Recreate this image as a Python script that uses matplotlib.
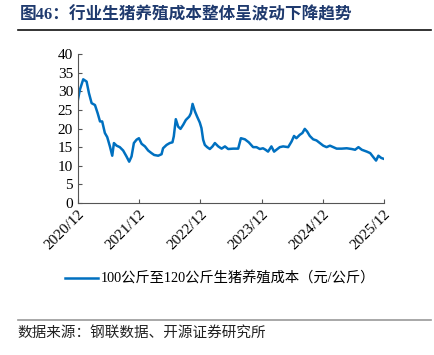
import matplotlib
matplotlib.use("Agg")
import matplotlib.pyplot as plt
from matplotlib.lines import Line2D
import numpy as np
import pandas as pd

# weekly-ish samples
dates = [
    "2020-12-01", "2020-12-03", "2020-12-13", "2021-01-02", "2021-01-22", "2021-02-05",
    "2021-02-21", "2021-03-13", "2021-03-29", "2021-04-12", "2021-04-25", "2021-05-11",
    "2021-05-25", "2021-06-10", "2021-06-24", "2021-07-04", "2021-07-20", "2021-08-08",
    "2021-08-28", "2021-09-17", "2021-10-03", "2021-10-17", "2021-10-31", "2021-11-16",
    "2021-11-30", "2021-12-16", "2022-01-05", "2022-01-24", "2022-02-13", "2022-03-01",
    "2022-03-25", "2022-04-14", "2022-04-23", "2022-05-14", "2022-06-02", "2022-06-18",
    "2022-06-26", "2022-07-08", "2022-07-22", "2022-08-05", "2022-08-21", "2022-09-06",
    "2022-09-26", "2022-10-06", "2022-10-16", "2022-10-30", "2022-11-12", "2022-11-28",
    "2022-12-08", "2022-12-18", "2022-12-28", "2023-01-11", "2023-01-27", "2023-02-12",
    "2023-02-26", "2023-03-18", "2023-04-07", "2023-04-27", "2023-05-16", "2023-06-15",
    "2023-07-15", "2023-07-31", "2023-08-24", "2023-09-16", "2023-10-12", "2023-11-01",
    "2023-11-21", "2023-12-10", "2023-12-25", "2024-01-09", "2024-01-29", "2024-02-14",
    "2024-02-28", "2024-03-19", "2024-04-08", "2024-05-08", "2024-05-28", "2024-06-12",
    "2024-06-26", "2024-07-16", "2024-08-01", "2024-08-15", "2024-08-29", "2024-09-14",
    "2024-10-04", "2024-10-24", "2024-11-13", "2024-12-03", "2024-12-23", "2025-01-12",
    "2025-02-01", "2025-02-21", "2025-03-23", "2025-04-22", "2025-05-22", "2025-06-11",
    "2025-07-01", "2025-07-21", "2025-08-20", "2025-09-09", "2025-09-28", "2025-10-14",
    "2025-10-28", "2025-11-14", "2025-12-03",
]
cost = [
    27.6, 28.1, 30.4, 33.2, 32.6, 29.5,
    26.8, 26.3, 24.1, 21.9, 21.9, 18.8,
    17.7, 15.2, 12.7, 16.1, 15.4, 15.0,
    14.1, 12.5, 11.1, 12.5, 16.1, 17.0,
    17.4, 15.9, 15.2, 14.1, 13.4, 12.9,
    12.7, 13.1, 14.7, 15.6, 16.1, 16.3,
    17.9, 22.5, 20.5, 19.9, 21.0, 22.3,
    23.2, 24.1, 26.6, 24.6, 23.2, 21.6,
    20.1, 17.0, 15.6, 15.0, 14.5, 15.2,
    16.1, 15.2, 14.6, 15.2, 14.5, 14.6,
    14.6, 17.4, 17.1, 16.3, 15.0, 15.0,
    14.5, 14.7, 14.3, 13.8, 15.2, 13.8,
    14.3, 15.0, 15.2, 15.0, 16.5, 18.0,
    17.4, 18.3, 18.8, 19.9, 19.2, 18.0,
    17.1, 16.8, 16.1, 15.4, 15.0, 15.4,
    15.0, 14.6, 14.6, 14.7, 14.5, 14.3,
    15.0, 14.3, 13.8, 13.4, 12.3, 11.4,
    12.7, 12.1, 11.8,
]
tick_dates = ["2020-12-01", "2021-12-01", "2022-12-01", "2023-12-01", "2024-12-01", "2025-12-01"]
tick_labels = ["2020/12", "2021/12", "2022/12", "2023/12", "2024/12", "2025/12"]
series_name = "100公斤至120公斤生猪养殖成本（元/公斤）"
title = "图46：行业生猪养殖成本整体呈波动下降趋势"
source = "数据来源：钢联数据、开源证券研究所"

plt.rcParams["font.family"] = ["Liberation Serif", "Noto Sans CJK SC", "DejaVu Sans"]

x = pd.to_datetime(dates)
fig = plt.figure(figsize=(4.35, 3.55), dpi=100)
ax = fig.add_axes([0.179, 0.428, 0.704, 0.42])

ax.plot(x, cost, color="#0070C0", lw=1.8, label=series_name)

ax.set_ylim(0, 40)
ax.set_yticks(np.arange(0, 41, 5))
ax.set_xlim(pd.Timestamp(tick_dates[0]), pd.Timestamp(tick_dates[-1]))
ax.set_xticks(pd.to_datetime(tick_dates))
ax.set_xticklabels(tick_labels, rotation=45, ha="right", rotation_mode="anchor")
ax.tick_params(direction="in", labelsize=11, length=3, color="#555555", width=0.8)
for s in ("top", "right"):
    ax.spines[s].set_visible(False)
for s in ("left", "bottom"):
    ax.spines[s].set_color("#555555")
    ax.spines[s].set_linewidth(0.8)

ax.legend(loc="center", bbox_to_anchor=(0.505, 0.214), bbox_transform=fig.transFigure,
          frameon=False, fontsize=10.3, handlelength=2.3, handletextpad=0.2)

fig.text(0.046, 0.958, title, fontsize=12, fontweight="bold", color="#1F3A6E",
         va="center", ha="left")
fig.text(0.041, 0.062, source, fontsize=10.5, color="#222222", va="center", ha="left")

fig.add_artist(Line2D([0.041, 0.99], [0.915, 0.915], transform=fig.transFigure,
                      color="#111111", lw=1.2))
fig.add_artist(Line2D([0.041, 0.99], [0.099, 0.099], transform=fig.transFigure,
                      color="#999999", lw=1.2))

fig.savefig("out.png", dpi=100)
